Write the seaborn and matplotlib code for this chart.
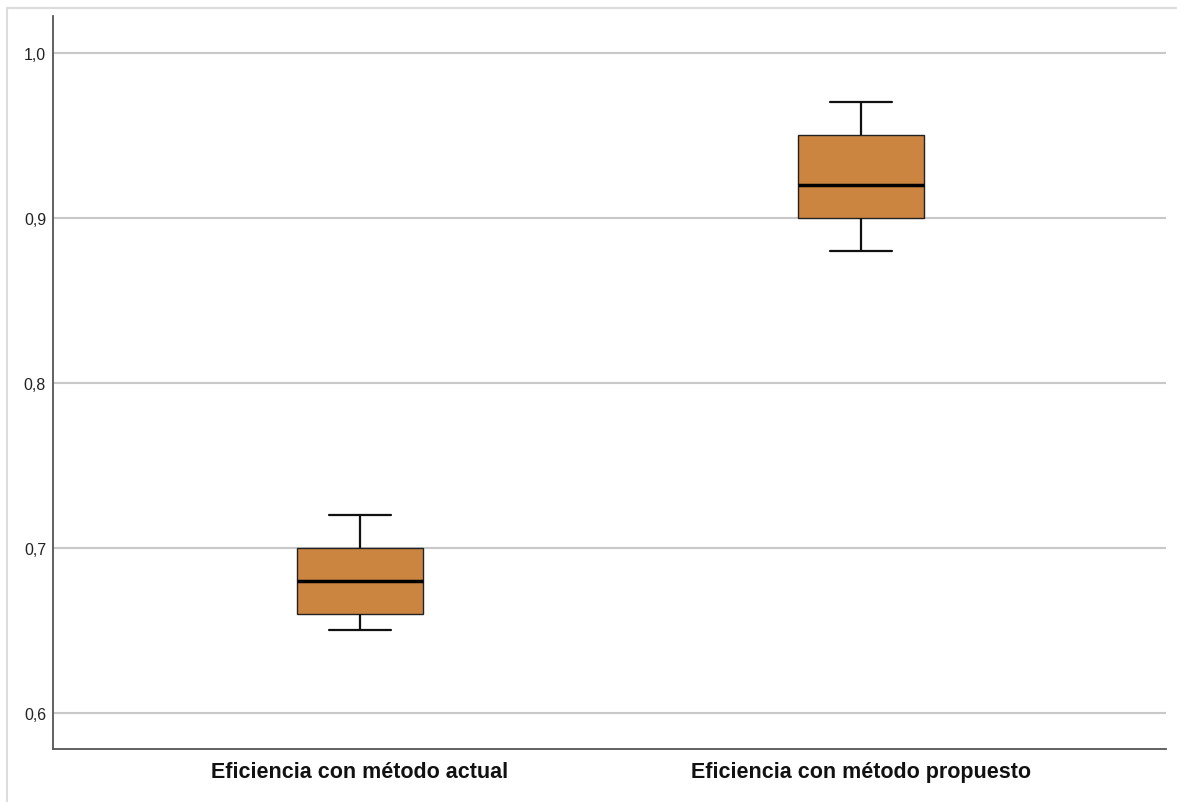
import pandas as pd
import matplotlib
matplotlib.use("Agg")
import matplotlib.pyplot as plt
import seaborn as sns
from matplotlib.patches import Rectangle
from matplotlib.ticker import FuncFormatter

# Data
categories = ['Eficiencia con método actual', 'Eficiencia con método propuesto']
eff_actual = [0.65, 0.66, 0.66, 0.67, 0.68, 0.69, 0.70, 0.70, 0.72]
eff_propuesto = [0.88, 0.90, 0.90, 0.91, 0.92, 0.93, 0.95, 0.95, 0.97]
y_ticks = [0.6, 0.7, 0.8, 0.9, 1.0]

BOX_COLOR = '#CC8540'
GRID_COLOR = '#c8c8c8'
SPINE_COLOR = '#555555'


def main():
    df = pd.DataFrame({
        'Metodo': [categories[0]] * len(eff_actual) + [categories[1]] * len(eff_propuesto),
        'Eficiencia': eff_actual + eff_propuesto,
    })

    sns.set_style('white')
    plt.rcParams['font.family'] = ['Liberation Sans', 'DejaVu Sans']

    fig = plt.figure(figsize=(11.77, 8.03), dpi=100)
    ax = fig.add_axes([53 / 1177, 1 - 750 / 803, (1166 - 53) / 1177, (750 - 17) / 803])

    # light outer frame like the SPSS output window
    fig.add_artist(Rectangle((7 / 1177, -0.01), 1.2, 1 - 9 / 803 + 0.01,
                             transform=fig.transFigure, fill=False,
                             edgecolor='#dcdcdc', linewidth=1.5))

    ax.set_axisbelow(True)
    ax.yaxis.grid(True, color=GRID_COLOR, linewidth=1.5)
    ax.xaxis.grid(False)

    sns.boxplot(data=df, x='Metodo', y='Eficiencia', order=categories, ax=ax,
                color=BOX_COLOR, saturation=1, width=0.25, linecolor='black',
                linewidth=1.5, fliersize=0,
                boxprops={'edgecolor': '#222222', 'linewidth': 1.0},
                medianprops={'color': 'black', 'linewidth': 2.5},
                whiskerprops={'color': '#111111', 'linewidth': 1.6},
                capprops={'color': '#111111', 'linewidth': 1.6})

    ax.set_xlim(-0.613, 1.609)
    ax.set_ylim(0.578, 1.0224)
    ax.set_yticks(y_ticks)
    ax.yaxis.set_major_formatter(FuncFormatter(lambda v, p: f"{v:.1f}".replace('.', ',')))
    ax.tick_params(axis='y', length=0, pad=5, labelsize=11.5, labelcolor='#222222')
    ax.tick_params(axis='x', length=0, pad=9, labelsize=15.5, labelcolor='#111111')
    for lab in ax.get_xticklabels():
        lab.set_fontweight('bold')
    ax.set_xlabel('')
    ax.set_ylabel('')

    for side in ['top', 'right']:
        ax.spines[side].set_visible(False)
    for side in ['left', 'bottom']:
        ax.spines[side].set_color(SPINE_COLOR)
        ax.spines[side].set_linewidth(1.3)

    fig.savefig('out.png', dpi=100)


if __name__ == "__main__":
    main()
